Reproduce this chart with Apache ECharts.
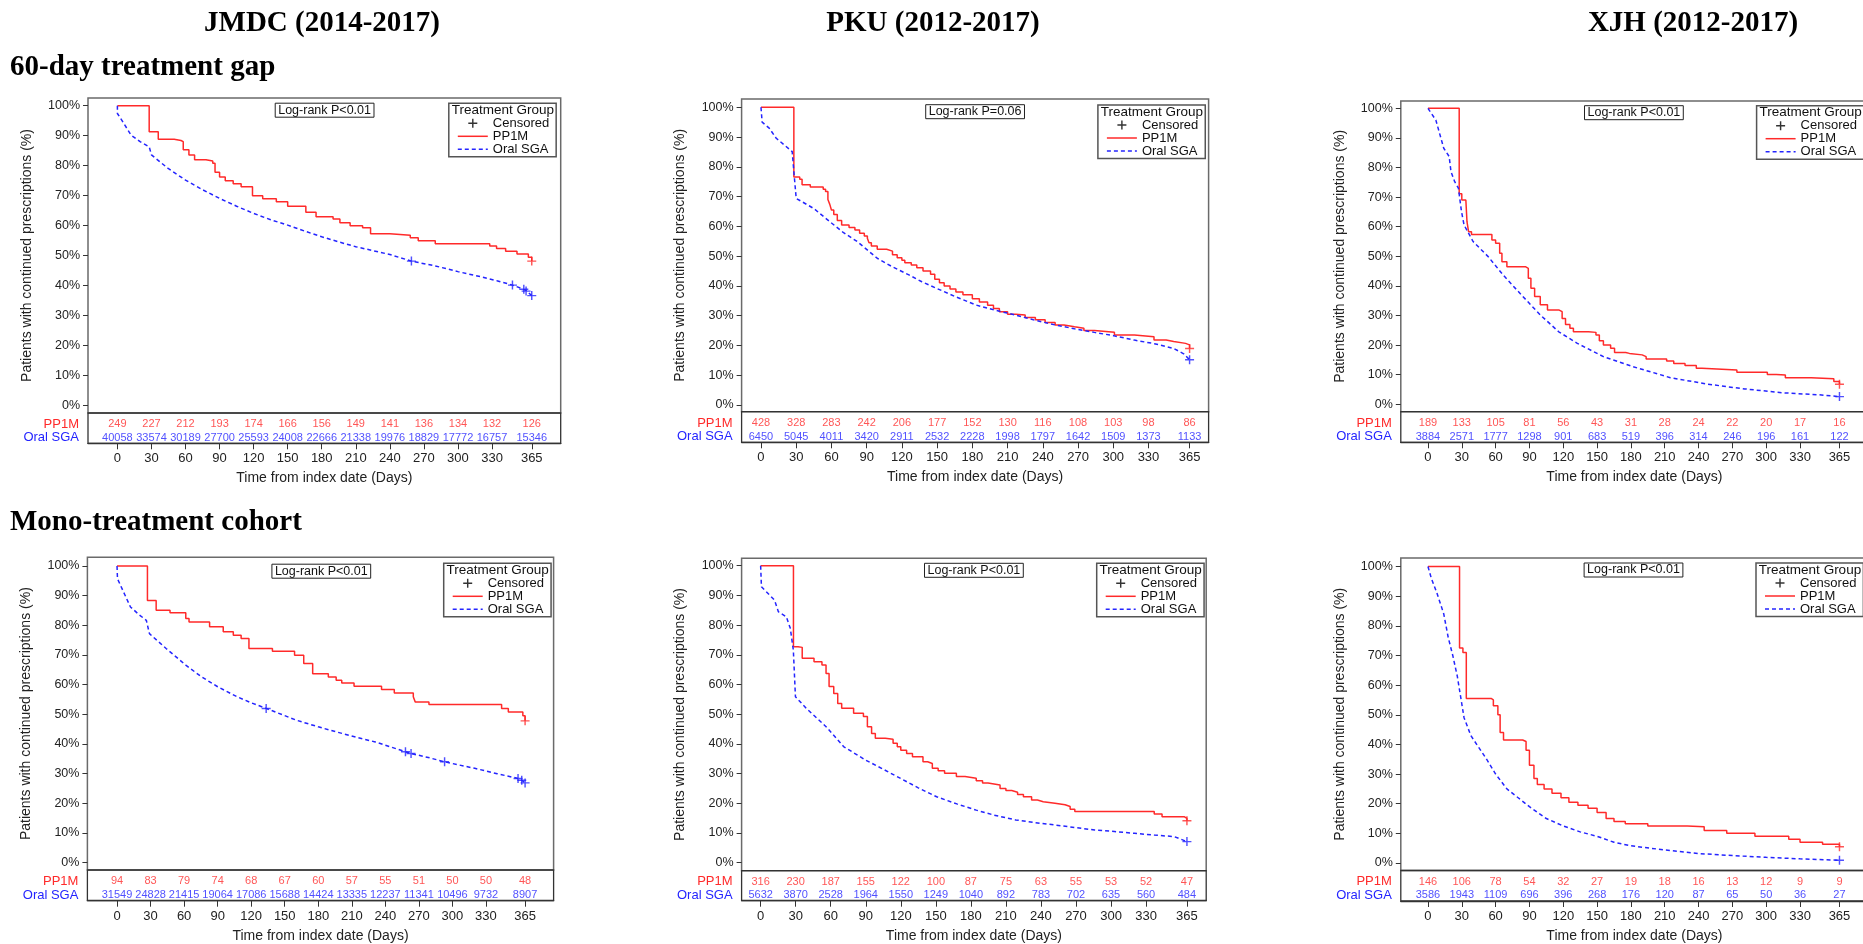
<!DOCTYPE html>
<html>
<head>
<meta charset="utf-8">
<script src="https://cdn.jsdelivr.net/npm/echarts@6/dist/echarts.min.js"></script>
<style>
html, body { margin: 0; padding: 0; background: #fff; }
#main { width: 1863px; height: 944px; }
</style>
</head>
<body>
<div id="main"></div>
<script>
// ticks
var dayTicks = [0, 30, 60, 90, 120, 150, 180, 210, 240, 270, 300, 330, 365];
var pctTicks = [0, 10, 20, 30, 40, 50, 60, 70, 80, 90, 100];

// JMDC, 60-day gap
var ppA = [[0,100],[28,91.3],[36,88.8],[50,88.4],[56,88],[58,85.3],[63,83.6],[68,82],[78,81.6],[84,80.8],[86,77.8],[90,76.2],[95,75],[102,74],[109,73],[119,70],[128,69],[140,68],[150,66.5],[166,64.5],[175,63],[190,62.2],[196,61],[205,60],[216,59.3],[223,57.3],[240,56.8],[258,56],[265,55],[280,54],[328,53.2],[334,52.4],[342,51.5],[352,50.6],[362,49.5],[365,48.2]];
var oralA = [[0,100],[0,97.4],[5,94.5],[12,90.2],[20,88],[28,86.3],[30,83.6],[45,79],[60,75.2],[75,72],[90,69.1],[105,66.5],[120,64.1],[135,62],[150,60.2],[165,58.2],[180,56.3],[195,54.6],[210,53],[225,51.7],[240,50.4],[259,48.2],[280,46.6],[300,44.7],[320,43],[335,41.6],[348,40.2],[356,39.1],[360,38.4],[365,36.7]];
var censPpA = [[365,48.2]];
var censOralA = [[259,48.2],[348,40.2],[358,38.8],[360,38.2],[365,36.7]];
var riskPpA = [249,227,212,193,174,166,156,149,141,136,134,132,126];
var riskOralA = [40058,33574,30189,27700,25593,24008,22666,21338,19976,18829,17772,16757,15346];

// PKU, 60-day gap
var ppB = [[0,100],[28,76.6],[33,75.8],[35,74],[42,73.2],[53,72.5],[55,71.7],[57,69],[58.6,67.4],[60,65.5],[62,64],[65,62],[68.7,60.5],[75,59.6],[80,58.8],[84,57.7],[88,56.8],[90.6,56],[92,54.5],[94,53.4],[99,52.3],[107,51.7],[112,50.5],[116,49.5],[120,48.6],[122.5,47.8],[128,47],[132.7,46.1],[138,45],[144.4,43.9],[148,42.2],[152,41.1],[156,40],[161,39],[166,38],[172,37],[180,35.7],[186,34.6],[193,33.5],[198,32.4],[203,31.3],[210,30.5],[217,30.2],[225,29.4],[233.7,28.6],[242,27.7],[250.5,26.9],[258,26.3],[267,25.8],[275,25],[284,24.4],[301,23.5],[318,22.9],[334.7,21.8],[345,21.3],[351.5,20.7],[361.6,20.2],[365,19]];
var oralB = [[0,100],[1,95],[7,93],[13,89.6],[20,87.3],[26.6,85.1],[28,78.4],[30,69.4],[45,66],[58.6,61.6],[70,58],[82,54.9],[99,49.3],[112,46.4],[126,43.7],[137,41.4],[149.5,39.2],[165,36.5],[183,33.6],[200,31.8],[217,30.2],[233,28.5],[250.5,26.9],[267,25.6],[284,24.4],[300,23.3],[318,21.8],[335,20.6],[351.5,19],[360,17.2],[365,15.2]];
var censPpB = [[365,19]];
var censOralB = [[365,15.2]];
var riskPpB = [428,328,283,242,206,177,152,130,116,108,103,98,86];
var riskOralB = [6450,5045,4011,3420,2911,2532,2228,1998,1797,1642,1509,1373,1133];

// XJH, 60-day gap
var ppC = [[0,100],[27.7,71.1],[30,69],[33.6,68.7],[34.6,61.7],[36,58.3],[38.6,57.4],[56.7,55.5],[60,54.4],[63.6,51],[65.6,48.2],[70,46.5],[86.4,45.9],[89,42.6],[91.3,39.2],[94.6,36.4],[99.6,33.6],[106,31.9],[116,31.3],[119,29],[122,27],[125.9,25.7],[129,24.5],[142.4,24.3],[149,23.4],[152,21.5],[155.6,20],[162,18.9],[165.5,17.5],[175.4,17.2],[178.7,16.7],[190,16.1],[193.5,15.3],[211.7,14.6],[218,13.8],[228,13.1],[238,12.2],[243,11.6],[274,10.8],[301,10.1],[309,9.9],[317,9],[340,8.6],[360,7.7],[365,6.8]];
var oralC = [[0,100],[7,96],[14,86.5],[18.8,83.7],[20.4,78.6],[23.7,75.2],[27,73],[29.7,65.2],[32,60.6],[40,55],[53.4,49.9],[66.6,43.7],[83,36.9],[99.6,30.2],[116,24.5],[132.5,20.6],[155.6,16.1],[182,12.7],[215,9],[248,6.8],[281,5.2],[314,3.9],[347,3.2],[365,2.6]];
var censPpC = [[365,6.8]];
var censOralC = [[365,2.6]];
var riskPpC = [189,133,105,81,56,43,31,28,24,22,20,17,16];
var riskOralC = [3884,2571,1777,1298,901,683,519,396,314,246,196,161,122];

// JMDC, mono-treatment
var ppD = [[0,100],[27.2,88.4],[35,85.1],[47.4,84.2],[61.5,82.3],[64.4,81.1],[82.8,79.5],[95,77.8],[104,76.7],[111,75.6],[118,72.2],[139,71.3],[158.8,69.9],[167,67.1],[175,63.7],[189,62.6],[196,61.5],[201,60.6],[212,59.5],[236.6,58.4],[248,57.2],[265,55.9],[266.7,54.2],[279,53.3],[344,52],[350,50.8],[363,49.5],[365,47.8]];
var oralD = [[0,100],[0.4,95.7],[12,86.2],[20,83.5],[26.2,81.7],[29,77.2],[43.9,72.2],[61.5,66.6],[75,62.8],[90,59.3],[107.5,55.9],[120,53.9],[133.4,52],[160.6,48],[180,45.8],[196,44.1],[215,42.2],[231,40.7],[245,39],[258,37.4],[263,36.8],[280,35.3],[293,34],[310,32.6],[320,31.8],[340,30],[358.7,28.4],[362,27.8],[365,26.9]];
var censPpD = [[365,47.8]];
var censOralD = [[133.4,52],[258,37.4],[263,36.8],[293,34],[358.7,28.4],[362,27.8],[365,26.9]];
var riskPpD = [94,83,79,74,68,67,60,57,55,51,50,50,48];
var riskOralD = [31549,24828,21415,19064,17086,15688,14424,13335,12237,11341,10496,9732,8907];

// PKU, mono-treatment
var ppE = [[0,100],[28.1,72.7],[32,72.5],[35.6,68.8],[45.7,67.7],[52.5,66.6],[56,63.7],[58.6,59.3],[62.6,57],[66,53.6],[69.4,52],[79.6,50.3],[88,49.2],[91.4,45.8],[95,43.5],[98.2,41.9],[106.7,41.6],[113.4,40.2],[117,39],[120,37.9],[125,36.8],[130,35.7],[139,34],[143,33.4],[147,31.8],[152,31],[157.5,30.1],[167.6,29],[175,28.4],[184.6,27.6],[190,26.8],[194.7,26.2],[205,25],[210,24.3],[215,23.7],[220,23],[225,22.2],[232,21.1],[237,20.5],[242,20],[252,19.5],[260.7,18.9],[265,18],[269,17.2],[337,16.4],[343.7,15.5],[362.6,14.9],[365,14.1]];
var oralE = [[0,100],[0.7,92.9],[11.9,88.4],[15.2,84.5],[22,82.8],[25.4,78.9],[28,71.6],[29.8,55.9],[39,52],[56,45.8],[71,39.1],[89.7,34.6],[100,32.5],[116.8,29],[135,25.2],[150.7,22.2],[168,19.8],[184.6,17.7],[200,16],[218.4,14.4],[235,13.5],[252,12.7],[270,11.8],[286,11],[303,10.5],[320,9.9],[337,9.3],[354,8.8],[365,7.1]];
var censPpE = [[365,14.1]];
var censOralE = [[365,7.1]];
var riskPpE = [316,230,187,155,122,100,87,75,63,55,53,52,47];
var riskOralE = [5632,3870,2528,1964,1550,1249,1040,892,783,702,635,560,484];

// XJH, mono-treatment
var ppF = [[0,100],[28,72.5],[31,71],[34,55.5],[56,55],[58,53],[62,50],[64,44],[67,41.5],[84,41],[87,38],[90,33],[94,28.5],[97,26.5],[103,25],[110,23.5],[118,22],[125,20.5],[133,19.5],[142,18.5],[150,17],[158,15],[165,14],[175,13.2],[195,12.5],[230,12.2],[245,11],[265,10],[290,9],[320,8],[330,7],[350,6.3],[365,5.5]];
var oralF = [[0,100],[3,96],[8,91],[14,84],[18,76],[22,70],[26,63],[29,56],[32,49],[38,43],[45,39],[52,35],[60,30],[70,25],[80,22],[90,19],[105,15],[120,12.5],[135,10.5],[150,9],[165,7],[180,5.8],[210,4.4],[240,3.2],[270,2.5],[300,1.9],[330,1.4],[365,0.9]];
var censPpF = [[365,5.5]];
var censOralF = [[365,0.9]];
var riskPpF = [146,106,78,54,32,27,19,18,16,13,12,9,9];
var riskOralF = [3586,1943,1109,696,396,268,176,120,87,65,50,36,27];

var RED = '#ff2a2a';
var BLUE = '#2424ff';
var SANS = 'Liberation Sans';
var SERIF = 'Liberation Serif';
var plusPath = 'path://M4.2,0H5.8V4.2H10V5.8H5.8V10H4.2V5.8H0V4.2H4.2Z';
var solidIcon = 'path://M0,0h30v1.5h-30z';
var dashIcon = 'path://M0,0h4v1.5h-4zM7,0h4v1.5h-4zM14,0h4v1.5h-4zM21,0h4v1.5h-4zM28,0h2v1.5h-2z';

// layout of each panel (frame, axis ranges, boxes)
var panels = [
    { pp: ppA, oral: oralA, cPp: censPpA, cOral: censOralA, rPp: riskPpA, rOral: riskOralA, p: 'Log-rank P<0.01',
      left: 88, top: 98, width: 472.7, plotH: 315, tableH: 30.3, x: [-25.9, 390.5], y: [-2.43, 102.57], lr: [324.6, 110.2], lg: [448.8, 103.3] },
    { pp: ppB, oral: oralB, cPp: censPpB, cOral: censOralB, rPp: riskPpB, rOral: riskOralB, p: 'Log-rank P=0.06',
      left: 741.6, top: 99, width: 467, plotH: 312.7, tableH: 30.6, x: [-16.5, 381.2], y: [-2.25, 102.79], lr: [975.1, 111.7], lg: [1097.9, 105] },
    { pp: ppC, oral: oralC, cPp: censPpC, cOral: censOralC, rPp: riskPpC, rOral: riskOralC, p: 'Log-rank P<0.01',
      left: 1400.8, top: 101, width: 467.2, plotH: 310.7, tableH: 30.6, x: [-24.1, 390.3], y: [-2.5, 102.47], lr: [1633.9, 112.7], lg: [1756.6, 105.7] },
    { pp: ppD, oral: oralD, cPp: censPpD, cOral: censOralD, rPp: riskPpD, rOral: riskOralD, p: 'Log-rank P<0.01',
      left: 87.4, top: 557.3, width: 466.2, plotH: 312.7, tableH: 30.7, x: [-26.5, 390.5], y: [-2.46, 102.93], lr: [321.3, 571.2], lg: [443.7, 563.3] },
    { pp: ppE, oral: oralE, cPp: censPpE, cOral: censOralE, rPp: riskPpE, rOral: riskOralE, p: 'Log-rank P<0.01',
      left: 741.6, top: 558.3, width: 464.6, plotH: 312.4, tableH: 30, x: [-16.3, 381.5], y: [-2.69, 102.49], lr: [973.9, 570.3], lg: [1096.7, 563.3] },
    { pp: ppF, oral: oralF, cPp: censPpF, cOral: censOralF, rPp: riskPpF, rOral: riskOralF, p: 'Log-rank P<0.01',
      left: 1400.8, top: 558, width: 467.2, plotH: 312.5, tableH: 30.5, x: [-24.1, 390.3], y: [-2.53, 102.87], lr: [1633.5, 570], lg: [1756, 563] }
];

var grids = [], xAxes = [], yAxes = [], series = [], legends = [];
var graphics = [
    { type: 'text', x: 322, y: 24, style: { text: 'JMDC (2014-2017)', fontFamily: SERIF, fontWeight: 'bold', fontSize: 29, fill: '#000', align: 'center', verticalAlign: 'middle' } },
    { type: 'text', x: 933, y: 24, style: { text: 'PKU (2012-2017)', fontFamily: SERIF, fontWeight: 'bold', fontSize: 29, fill: '#000', align: 'center', verticalAlign: 'middle' } },
    { type: 'text', x: 1693, y: 24, style: { text: 'XJH (2012-2017)', fontFamily: SERIF, fontWeight: 'bold', fontSize: 29, fill: '#000', align: 'center', verticalAlign: 'middle' } },
    { type: 'text', x: 10, y: 68, style: { text: '60-day treatment gap', fontFamily: SERIF, fontWeight: 'bold', fontSize: 29, fill: '#000', align: 'left', verticalAlign: 'middle' } },
    { type: 'text', x: 10, y: 523, style: { text: 'Mono-treatment cohort', fontFamily: SERIF, fontWeight: 'bold', fontSize: 29, fill: '#000', align: 'left', verticalAlign: 'middle' } }
];

panels.forEach(function (pn, i) {
    var g = 2 * i, t = 2 * i + 1;
    grids.push({ left: pn.left, top: pn.top, width: pn.width, height: pn.plotH, show: true, borderColor: '#6a6a6a', borderWidth: 1.5, outerBoundsMode: 'none' });
    grids.push({ left: pn.left, top: pn.top + pn.plotH, width: pn.width, height: pn.tableH, show: true, borderColor: '#333', borderWidth: 1.3, outerBoundsMode: 'none' });

    xAxes.push({ gridIndex: g, type: 'value', min: pn.x[0], max: pn.x[1], show: false });
    xAxes.push({
        gridIndex: t, type: 'value', min: pn.x[0], max: pn.x[1], position: 'bottom',
        axisLine: { show: true, onZero: false, lineStyle: { color: '#333', width: 1.3 } },
        axisTick: { show: true, length: 6, customValues: dayTicks, lineStyle: { color: '#333' } },
        axisLabel: { customValues: dayTicks, fontSize: 13, color: '#222', margin: 9, fontFamily: SANS },
        splitLine: { show: false },
        name: 'Time from index date (Days)', nameLocation: 'middle', nameGap: 28,
        nameTextStyle: { fontSize: 14, color: '#222', fontFamily: SANS }
    });

    yAxes.push({
        gridIndex: g, type: 'value', min: pn.y[0], max: pn.y[1], position: 'left',
        axisLine: { show: false, onZero: false },
        axisTick: { show: true, length: 5, customValues: pctTicks, lineStyle: { color: '#333' } },
        axisLabel: { customValues: pctTicks, formatter: '{value}%', fontSize: 12.5, color: '#222', margin: 8, fontFamily: SANS },
        splitLine: { show: false },
        name: 'Patients with continued prescriptions (%)', nameLocation: 'middle', nameGap: 54,
        nameTextStyle: { fontSize: 14, color: '#222', fontFamily: SANS }
    });
    yAxes.push({
        gridIndex: t, type: 'value', min: -0.418, max: 1.843, position: 'left',
        axisLine: { show: false, onZero: false }, axisTick: { show: false }, splitLine: { show: false },
        axisLabel: {
            customValues: [0, 1], margin: 9,
            formatter: function (v) { return v >= 0.5 ? '{r|PP1M}' : '{b|Oral SGA}'; },
            rich: { r: { color: RED, fontSize: 13, fontFamily: SANS }, b: { color: BLUE, fontSize: 13, fontFamily: SANS } }
        }
    });

    series.push({
        name: 'PP1M', type: 'line', xAxisIndex: g, yAxisIndex: g, step: 'end', symbol: 'none',
        lineStyle: { color: RED, width: 1.5 }, itemStyle: { color: RED }, data: pn.pp, z: 3
    });
    series.push({
        name: 'Oral SGA', type: 'line', xAxisIndex: g, yAxisIndex: g, symbol: 'none',
        lineStyle: { color: BLUE, width: 1.5, type: [4, 3] }, itemStyle: { color: BLUE }, data: pn.oral, z: 3
    });
    series.push({
        name: 'Censored', type: 'scatter', xAxisIndex: g, yAxisIndex: g, symbol: plusPath, symbolSize: 9,
        itemStyle: { color: '#000' }, z: 4,
        data: pn.cPp.map(function (d) { return { value: d, itemStyle: { color: RED } }; })
            .concat(pn.cOral.map(function (d) { return { value: d, itemStyle: { color: BLUE } }; }))
    });
    series.push({
        name: 'riskPP', type: 'scatter', xAxisIndex: t, yAxisIndex: t, symbolSize: 1,
        itemStyle: { color: 'rgba(0,0,0,0)' },
        label: { show: true, position: 'inside', color: RED, fontSize: 11, fontFamily: SANS, formatter: function (p) { return p.value[2]; } },
        data: dayTicks.map(function (d, k) { return [d, 1, pn.rPp[k]]; })
    });
    series.push({
        name: 'riskOral', type: 'scatter', xAxisIndex: t, yAxisIndex: t, symbolSize: 1,
        itemStyle: { color: 'rgba(0,0,0,0)' },
        label: { show: true, position: 'inside', color: BLUE, fontSize: 11, fontFamily: SANS, formatter: function (p) { return p.value[2]; } },
        data: dayTicks.map(function (d, k) { return [d, 0, pn.rOral[k]]; })
    });

    legends.push({
        orient: 'vertical', left: pn.lg[0], top: pn.lg[1],
        data: [
            { name: 'Censored', icon: plusPath },
            { name: 'PP1M', icon: solidIcon },
            { name: 'Oral SGA', icon: dashIcon }
        ],
        itemWidth: 30, itemHeight: 9, itemGap: 0, padding: [13.5, 7, 1, 9],
        borderColor: '#555', borderWidth: 1.5, selectedMode: false,
        textStyle: { fontSize: 13, color: '#111', lineHeight: 13, fontFamily: SANS }
    });

    graphics.push({ type: 'text', x: pn.lg[0] + 54, y: pn.lg[1] + 7, style: { text: 'Treatment Group', fontSize: 13.5, fontFamily: SANS, fill: '#111', align: 'center', verticalAlign: 'middle' } });
    graphics.push({ type: 'text', x: pn.lr[0], y: pn.lr[1], style: { text: pn.p, fontSize: 12.5, fontFamily: SANS, fill: '#111', align: 'center', verticalAlign: 'middle', borderColor: '#222', borderWidth: 1, padding: [1, 3, 0, 3] } });
});

var myChart = echarts.init(document.getElementById('main'), null, { renderer: 'canvas' });
myChart.setOption({
    animation: false,
    backgroundColor: '#fff',
    textStyle: { fontFamily: SANS },
    grid: grids,
    xAxis: xAxes,
    yAxis: yAxes,
    legend: legends,
    series: series,
    graphic: graphics
});
</script>
</body>
</html>
